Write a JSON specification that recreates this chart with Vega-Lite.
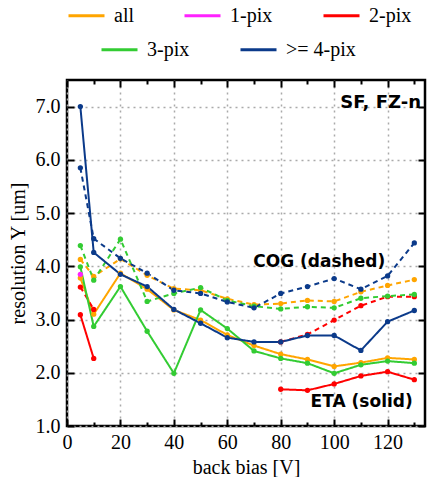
{
  "$schema": "https://vega.github.io/schema/vega-lite/v6.json",
  "autosize": {"type": "none"},
  "padding": {"left": 67, "top": 80, "right": 3, "bottom": 51},
  "width": 358,
  "height": 346,
  "background": "white",
  "data": {"values": [
    {"s":"all","m":"ETA","seg":1,"V":5,"r":3.78},{"s":"all","m":"ETA","seg":1,"V":10,"r":3.10},{"s":"all","m":"ETA","seg":1,"V":20,"r":3.87},{"s":"all","m":"ETA","seg":1,"V":30,"r":3.57},{"s":"all","m":"ETA","seg":1,"V":40,"r":3.18},{"s":"all","m":"ETA","seg":1,"V":50,"r":2.99},{"s":"all","m":"ETA","seg":1,"V":60,"r":2.71},{"s":"all","m":"ETA","seg":1,"V":70,"r":2.51},{"s":"all","m":"ETA","seg":1,"V":80,"r":2.35},{"s":"all","m":"ETA","seg":1,"V":90,"r":2.25},{"s":"all","m":"ETA","seg":1,"V":100,"r":2.12},{"s":"all","m":"ETA","seg":1,"V":110,"r":2.19},{"s":"all","m":"ETA","seg":1,"V":120,"r":2.28},{"s":"all","m":"ETA","seg":1,"V":130,"r":2.25},
    {"s":"all","m":"COG","seg":1,"V":5,"r":4.13},{"s":"all","m":"COG","seg":1,"V":10,"r":3.81},{"s":"all","m":"COG","seg":1,"V":20,"r":4.14},{"s":"all","m":"COG","seg":1,"V":30,"r":3.83},{"s":"all","m":"COG","seg":1,"V":40,"r":3.58},{"s":"all","m":"COG","seg":1,"V":50,"r":3.55},{"s":"all","m":"COG","seg":1,"V":60,"r":3.39},{"s":"all","m":"COG","seg":1,"V":70,"r":3.28},{"s":"all","m":"COG","seg":1,"V":80,"r":3.30},{"s":"all","m":"COG","seg":1,"V":90,"r":3.36},{"s":"all","m":"COG","seg":1,"V":100,"r":3.34},{"s":"all","m":"COG","seg":1,"V":110,"r":3.52},{"s":"all","m":"COG","seg":1,"V":120,"r":3.64},{"s":"all","m":"COG","seg":1,"V":130,"r":3.75},
    {"s":"1-pix","m":"ETA","seg":1,"V":5,"r":3.85},
    {"s":"2-pix","m":"ETA","seg":1,"V":5,"r":3.09},{"s":"2-pix","m":"ETA","seg":1,"V":10,"r":2.27},{"s":"2-pix","m":"ETA","seg":2,"V":80,"r":1.69},{"s":"2-pix","m":"ETA","seg":2,"V":90,"r":1.67},{"s":"2-pix","m":"ETA","seg":2,"V":100,"r":1.79},{"s":"2-pix","m":"ETA","seg":2,"V":110,"r":1.94},{"s":"2-pix","m":"ETA","seg":2,"V":120,"r":2.02},{"s":"2-pix","m":"ETA","seg":2,"V":130,"r":1.87},
    {"s":"2-pix","m":"COG","seg":1,"V":5,"r":3.61},{"s":"2-pix","m":"COG","seg":1,"V":10,"r":3.19},{"s":"2-pix","m":"COG","seg":2,"V":80,"r":2.58},{"s":"2-pix","m":"COG","seg":2,"V":90,"r":2.72},{"s":"2-pix","m":"COG","seg":2,"V":100,"r":2.99},{"s":"2-pix","m":"COG","seg":2,"V":110,"r":3.26},{"s":"2-pix","m":"COG","seg":2,"V":120,"r":3.43},{"s":"2-pix","m":"COG","seg":2,"V":130,"r":3.43},
    {"s":"3-pix","m":"ETA","seg":1,"V":5,"r":3.99},{"s":"3-pix","m":"ETA","seg":1,"V":10,"r":2.87},{"s":"3-pix","m":"ETA","seg":1,"V":20,"r":3.62},{"s":"3-pix","m":"ETA","seg":1,"V":30,"r":2.78},{"s":"3-pix","m":"ETA","seg":1,"V":40,"r":1.99},{"s":"3-pix","m":"ETA","seg":1,"V":50,"r":3.18},{"s":"3-pix","m":"ETA","seg":1,"V":60,"r":2.83},{"s":"3-pix","m":"ETA","seg":1,"V":70,"r":2.41},{"s":"3-pix","m":"ETA","seg":1,"V":80,"r":2.27},{"s":"3-pix","m":"ETA","seg":1,"V":90,"r":2.18},{"s":"3-pix","m":"ETA","seg":1,"V":100,"r":1.99},{"s":"3-pix","m":"ETA","seg":1,"V":110,"r":2.15},{"s":"3-pix","m":"ETA","seg":1,"V":120,"r":2.22},{"s":"3-pix","m":"ETA","seg":1,"V":130,"r":2.18},
    {"s":"3-pix","m":"COG","seg":1,"V":5,"r":4.39},{"s":"3-pix","m":"COG","seg":1,"V":10,"r":3.74},{"s":"3-pix","m":"COG","seg":1,"V":20,"r":4.51},{"s":"3-pix","m":"COG","seg":1,"V":30,"r":3.34},{"s":"3-pix","m":"COG","seg":1,"V":40,"r":3.49},{"s":"3-pix","m":"COG","seg":1,"V":50,"r":3.60},{"s":"3-pix","m":"COG","seg":1,"V":60,"r":3.36},{"s":"3-pix","m":"COG","seg":1,"V":70,"r":3.25},{"s":"3-pix","m":"COG","seg":1,"V":80,"r":3.20},{"s":"3-pix","m":"COG","seg":1,"V":90,"r":3.24},{"s":"3-pix","m":"COG","seg":1,"V":100,"r":3.22},{"s":"3-pix","m":"COG","seg":1,"V":110,"r":3.40},{"s":"3-pix","m":"COG","seg":1,"V":120,"r":3.44},{"s":"3-pix","m":"COG","seg":1,"V":130,"r":3.47},
    {"s":">= 4-pix","m":"ETA","seg":1,"V":5,"r":7.0},{"s":">= 4-pix","m":"ETA","seg":1,"V":10,"r":4.26},{"s":">= 4-pix","m":"ETA","seg":1,"V":20,"r":3.85},{"s":">= 4-pix","m":"ETA","seg":1,"V":30,"r":3.62},{"s":">= 4-pix","m":"ETA","seg":1,"V":40,"r":3.19},{"s":">= 4-pix","m":"ETA","seg":1,"V":50,"r":2.93},{"s":">= 4-pix","m":"ETA","seg":1,"V":60,"r":2.66},{"s":">= 4-pix","m":"ETA","seg":1,"V":70,"r":2.58},{"s":">= 4-pix","m":"ETA","seg":1,"V":80,"r":2.58},{"s":">= 4-pix","m":"ETA","seg":1,"V":90,"r":2.70},{"s":">= 4-pix","m":"ETA","seg":1,"V":100,"r":2.70},{"s":">= 4-pix","m":"ETA","seg":1,"V":110,"r":2.42},{"s":">= 4-pix","m":"ETA","seg":1,"V":120,"r":2.96},{"s":">= 4-pix","m":"ETA","seg":1,"V":130,"r":3.17},
    {"s":">= 4-pix","m":"COG","seg":1,"V":5,"r":5.85},{"s":">= 4-pix","m":"COG","seg":1,"V":10,"r":4.52},{"s":">= 4-pix","m":"COG","seg":1,"V":20,"r":4.15},{"s":">= 4-pix","m":"COG","seg":1,"V":30,"r":3.87},{"s":">= 4-pix","m":"COG","seg":1,"V":40,"r":3.55},{"s":">= 4-pix","m":"COG","seg":1,"V":50,"r":3.49},{"s":">= 4-pix","m":"COG","seg":1,"V":60,"r":3.33},{"s":">= 4-pix","m":"COG","seg":1,"V":70,"r":3.22},{"s":">= 4-pix","m":"COG","seg":1,"V":80,"r":3.49},{"s":">= 4-pix","m":"COG","seg":1,"V":90,"r":3.62},{"s":">= 4-pix","m":"COG","seg":1,"V":100,"r":3.77},{"s":">= 4-pix","m":"COG","seg":1,"V":110,"r":3.57},{"s":">= 4-pix","m":"COG","seg":1,"V":120,"r":3.82},{"s":">= 4-pix","m":"COG","seg":1,"V":130,"r":4.44}
  ]},
  "resolve": {"axis": {"x": "independent", "y": "independent"}},
  "layer": [
    {
      "transform": [{"filter": {"field": "s", "oneOf": ["all", "1-pix", "2-pix"]}}],
      "mark": {"type": "line", "strokeWidth": 2},
      "encoding": {
        "x": {"field": "V", "type": "quantitative", "scale": {"domain": [0, 134], "nice": false, "zero": false},
              "axis": {"orient": "bottom", "values": [0, 20, 40, 60, 80, 100, 120], "title": "back bias [V]", "grid": true, "ticks": false, "labelPadding": 6, "titlePadding": 5}},
        "y": {"field": "r", "type": "quantitative", "scale": {"domain": [1, 7.5], "nice": false, "zero": false},
              "axis": {"orient": "left", "values": [1, 2, 3, 4, 5, 6, 7], "format": ".1f", "title": "resolution Y [um]", "grid": true, "ticks": false, "labelPadding": 7, "titlePadding": 7}},
        "stroke": {"field": "s", "type": "nominal",
                   "scale": {"domain": ["all", "1-pix", "2-pix"], "range": ["#FFA500", "#FF22FF", "#FF0000"]},
                   "legend": {"orient": "none", "legendX": 0, "legendY": -84, "direction": "horizontal", "title": null,
                              "labelFont": "Liberation Serif", "labelFontSize": 20, "labelColor": "#000",
                              "encode": {"labels": {"update": {"font": {"value": "Liberation Serif"}, "fontSize": {"value": 20}, "fontWeight": {"value": "normal"}}}}}},
        "strokeDash": {"field": "m", "type": "nominal", "scale": {"domain": ["ETA", "COG"], "range": [[1, 0], [5, 4]]}, "legend": null},
        "detail": {"field": "seg", "type": "nominal"}
      }
    },
    {
      "transform": [{"filter": {"field": "s", "oneOf": ["3-pix", ">= 4-pix"]}}],
      "mark": {"type": "line", "strokeWidth": 2},
      "encoding": {
        "x": {"field": "V", "type": "quantitative",
              "axis": {"orient": "bottom", "values": [0, 20, 40, 60, 80, 100, 120], "labels": false, "grid": false, "title": null, "tickSize": 7, "offset": -7}},
        "y": {"field": "r", "type": "quantitative",
              "axis": {"orient": "left", "values": [1, 2, 3, 4, 5, 6, 7], "labels": false, "grid": false, "title": null, "tickSize": 7, "offset": -7}},
        "color": {"field": "s", "type": "nominal",
                  "scale": {"domain": ["3-pix", ">= 4-pix"], "range": ["#33CC33", "#0B3A8A"]},
                  "legend": {"orient": "none", "legendX": 33, "legendY": -50, "direction": "horizontal", "title": null,
                             "labelFont": "Liberation Serif", "labelFontSize": 20, "labelColor": "#000",
                             "encode": {"labels": {"update": {"font": {"value": "Liberation Serif"}, "fontSize": {"value": 20}, "fontWeight": {"value": "normal"}}}}}},
        "strokeDash": {"field": "m", "type": "nominal", "legend": null},
        "detail": {"field": "seg", "type": "nominal"}
      }
    },
    {
      "mark": {"type": "point", "filled": true, "size": 28, "opacity": 1},
      "encoding": {
        "x": {"field": "V", "type": "quantitative",
              "axis": {"orient": "bottom", "values": [10, 30, 50, 70, 90, 110, 130], "labels": false, "grid": false, "title": null, "tickSize": 4, "offset": -4}},
        "y": {"field": "r", "type": "quantitative",
              "axis": {"orient": "right", "values": [1, 2, 3, 4, 5, 6, 7], "labels": false, "grid": false, "title": null, "tickSize": 7, "offset": -7}},
        "fill": {"field": "s", "type": "nominal",
                 "scale": {"domain": ["all", "1-pix", "2-pix", "3-pix", ">= 4-pix"], "range": ["#FFA500", "#FF22FF", "#FF0000", "#33CC33", "#0B3A8A"]},
                 "legend": null}
      }
    },
    {
      "data": {"values": [{}]},
      "mark": {"type": "text", "text": "SF, FZ-n", "font": "DejaVu Sans", "fontWeight": "bold", "fontSize": 18, "align": "right", "baseline": "middle"},
      "encoding": {
        "x": {"datum": 132.5, "type": "quantitative",
              "axis": {"orient": "top", "values": [0, 20, 40, 60, 80, 100, 120], "labels": false, "grid": false, "title": null, "tickSize": 7, "offset": -7}},
        "y": {"datum": 7.07, "type": "quantitative", "axis": null}
      }
    },
    {
      "data": {"values": [{}]},
      "mark": {"type": "text", "text": "COG (dashed)", "font": "DejaVu Sans", "fontWeight": "bold", "fontSize": 17, "align": "center", "baseline": "middle"},
      "encoding": {
        "x": {"datum": 94.4, "type": "quantitative",
              "axis": {"orient": "top", "values": [10, 30, 50, 70, 90, 110, 130], "labels": false, "grid": false, "title": null, "tickSize": 4, "offset": -4}},
        "y": {"datum": 4.09, "type": "quantitative", "axis": null}
      }
    },
    {
      "data": {"values": [{}]},
      "mark": {"type": "text", "text": "ETA (solid)", "font": "DejaVu Sans", "fontWeight": "bold", "fontSize": 17, "align": "center", "baseline": "middle"},
      "encoding": {
        "x": {"datum": 110.3, "type": "quantitative", "axis": null},
        "y": {"datum": 1.46, "type": "quantitative", "axis": null}
      }
    }
  ],
  "config": {
    "view": {"stroke": "#000", "strokeWidth": 2.5},
    "axis": {
      "domain": false,
      "labelFont": "Liberation Serif", "labelFontSize": 20, "labelColor": "#000",
      "titleFont": "Liberation Serif", "titleFontSize": 20, "titleFontWeight": "normal", "titleColor": "#000",
      "tickColor": "#000", "tickWidth": 2,
      "gridColor": "#aaaaaa", "gridDash": [2, 4], "gridWidth": 1.5, "labelFlush": false, "labelOverlap": false
    },
    "legend": {
      "symbolType": "stroke", "symbolSize": 1296, "symbolStrokeWidth": 3,
      "labelFont": "Liberation Serif", "labelFontSize": 20, "labelColor": "#000", "labelOffset": 8,
      "columnPadding": 44, "padding": 0, "labelLimit": 300
    }
  }
}
